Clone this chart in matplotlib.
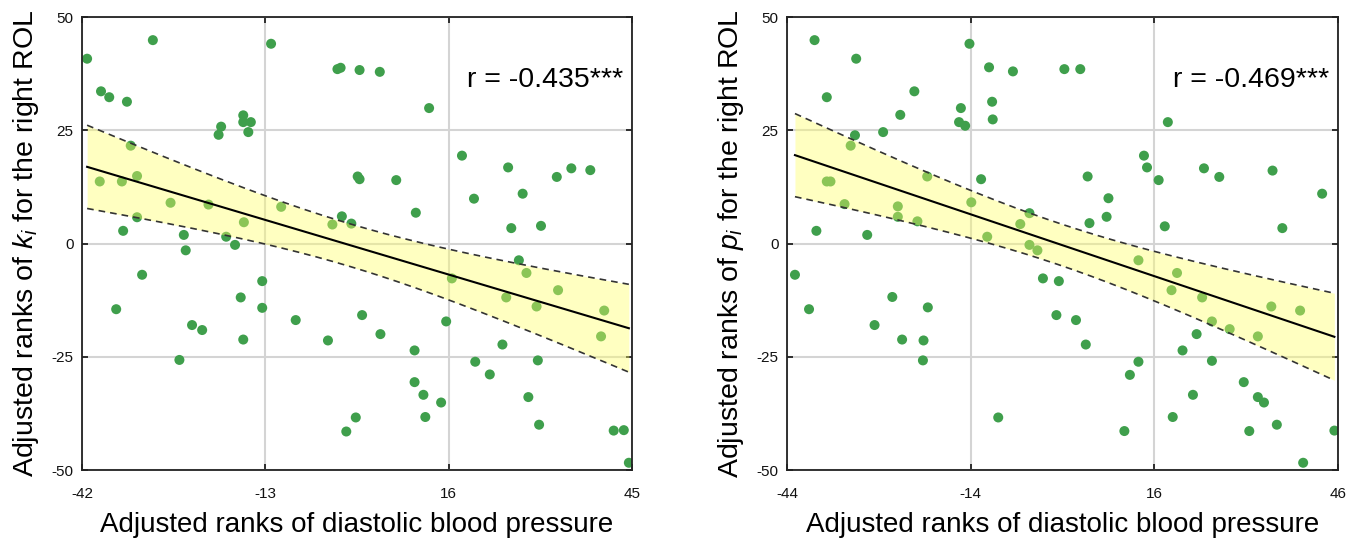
import numpy as np
import matplotlib.pyplot as plt

plt.rcParams['font.family'] = ['Liberation Sans', 'DejaVu Sans']
plt.rcParams['mathtext.fontset'] = 'custom'
plt.rcParams['mathtext.rm'] = 'Liberation Sans'
plt.rcParams['mathtext.it'] = 'Liberation Sans:italic'
plt.rcParams['axes.unicode_minus'] = False

# adjusted ranks, left panel (k_i)
k_x = np.array([-41.2, -30.8, -12.1, -39.0, -37.7, -34.9, -1.6, -1.1, 1.9, 5.1,
                12.9, -16.5, -16.5, -15.3, -15.7, -20.0, -20.4, -34.3, -39.2, -35.7,
                -33.3, -28.0, -22.0, -10.5, -33.3, -35.5, -25.9, -25.6, -19.2, -17.8,
                -16.4, -32.5, -36.6, -13.5, -16.9, -13.5, -24.6, -23.0, -16.5, -26.6,
                -8.2, -3.1, -2.4, -0.9, 0.6, 1.6, 1.9, 7.7, 2.3, 5.2,
                1.3, -0.2, 10.8, 10.6, 10.6, 12.0, 12.3, 14.8, 15.6, 16.5,
                18.1, 20.0, 20.2, 22.5, 24.5, 25.1, 25.4, 25.9, 27.1, 27.7,
                28.3, 29.9, 30.1, 28.6, 30.3, 30.6, 33.1, 33.3, 35.4, 38.4,
                40.1, 40.6, 42.1, 43.7, 44.5])
k_y = np.array([40.8, 44.9, 44.1, 33.6, 32.3, 31.3, 38.5, 38.8, 38.3, 37.9,
                29.9, 28.3, 26.8, 26.8, 24.6, 25.8, 24.0, 21.6, 13.7, 13.7,
                14.9, 9.0, 8.6, 8.1, 5.8, 2.8, 1.9, -1.5, 1.5, -0.3,
                4.7, -6.9, -14.5, -8.3, -11.9, -14.2, -18.0, -19.1, -21.2, -25.7,
                -16.9, -21.4, 4.2, 6.0, 4.4, 14.8, 14.2, 14.0, -15.8, -20.0,
                -38.4, -41.5, 6.8, -23.6, -30.6, -33.4, -38.3, -35.1, -17.2, -7.7,
                19.4, 9.9, -26.1, -28.9, -22.3, -11.9, 16.8, 3.4, -3.7, 11.0,
                -6.5, -13.9, -25.8, -33.9, -40.0, 3.9, 14.7, -10.3, 16.6, 16.2,
                -20.5, -14.8, -41.3, -41.2, -48.4])

# adjusted ranks, right panel (p_i)
p_x = np.array([-39.5, -32.7, -14.2, -37.5, -23.2, -11.0, -7.1, 1.3, 3.9, -25.5,
                -15.6, -10.5, -10.4, -15.9, -14.9, -28.3, -32.9, 18.2, -33.6, -37.5,
                -36.9, -21.1, -34.6, -25.9, -25.9, -22.7, -13.9, -39.2, -30.9, -12.3,
                -11.3, -5.9, -4.4, -4.4, -3.1, -42.7, -40.4, -26.8, -21.0, -29.7,
                -25.2, -21.7, -21.8, -9.5, -2.2, 0.4, 0.0, 3.2, 4.8, 5.1,
                5.4, 8.2, 8.5, 11.1, 12.0, 13.4, 13.4, 14.3, 14.8, 16.7,
                17.7, 18.8, 19.7, 19.0, 20.6, 22.3, 22.9, 23.8, 24.1, 25.4,
                25.4, 26.6, 28.3, 30.6, 31.5, 32.9, 33.9, 32.9, 35.1, 35.3,
                36.9, 36.0, 39.8, 40.3, 43.4, 45.4])
p_y = np.array([44.9, 40.8, 44.1, 32.3, 33.6, 38.9, 38.0, 38.5, 38.5, 28.4,
                29.9, 31.3, 27.4, 26.8, 26.0, 24.6, 23.9, 26.8, 21.6, 13.7,
                13.7, 14.8, 8.7, 8.2, 5.9, 4.9, 9.1, 2.8, 1.9, 14.2,
                1.5, 4.3, 6.7, -0.3, -1.5, -6.9, -14.5, -11.8, -14.1, -18.0,
                -21.2, -21.4, -25.8, -38.4, -7.7, -8.3, -15.8, -16.9, -22.3, 14.8,
                4.5, 5.9, 10.0, -41.4, -29.0, -26.1, -3.7, 19.4, 16.8, 14.0,
                3.8, -10.3, -6.5, -38.3, -23.6, -33.4, -20.0, -11.9, 16.6, -17.2,
                -25.9, 14.7, -18.9, -30.6, -41.4, -33.9, -35.1, -20.5, -13.9, 16.1,
                3.4, -40.0, -14.8, -48.4, 11.0, -41.3])

k_xticks = [-42, -13, 16, 45]
p_xticks = [-44, -14, 16, 46]
yticks = [-50, -25, 0, 25, 50]

xlabel = 'Adjusted ranks of diastolic blood pressure'
k_ylabel = 'Adjusted ranks of $k_i$ for the right ROL'
p_ylabel = 'Adjusted ranks of $p_i$ for the right ROL'
k_r = 'r = -0.435***'
p_r = 'r = -0.469***'

DOT = '#3f9f4c'
T95 = 1.99


def draw_panel(ax, x, y, xticks, ylabel, rtext):
    ax.scatter(x, y, s=52, color=DOT, edgecolors='none', zorder=2)

    # least squares fit with 95% confidence band of the mean
    slope, icpt = np.polyfit(x, y, 1)
    xs = np.linspace(x.min(), x.max(), 200)
    fit = slope * xs + icpt
    n = len(x)
    resid = y - (slope * x + icpt)
    s = np.sqrt(np.sum(resid ** 2) / (n - 2))
    sxx = np.sum((x - x.mean()) ** 2)
    half = T95 * s * np.sqrt(1.0 / n + (xs - x.mean()) ** 2 / sxx)

    ax.fill_between(xs, fit - half, fit + half, color='#ffff66', alpha=0.4,
                    lw=0, zorder=3)
    ax.plot(xs, fit + half, color='#333333', lw=1.2, ls=(0, (4, 3)), zorder=4)
    ax.plot(xs, fit - half, color='#333333', lw=1.2, ls=(0, (4, 3)), zorder=4)
    ax.plot(xs, fit, color='black', lw=1.5, zorder=5)

    ax.set_xlim(xticks[0], xticks[-1])
    ax.set_ylim(-50, 50)
    ax.set_xticks(xticks)
    ax.set_yticks(yticks)
    ax.grid(True, color='#d4d4d4', lw=1.5)
    ax.set_axisbelow(True)
    ax.tick_params(direction='in', length=4, width=1.2, top=True, right=True,
                   labelsize=11, colors='#111111')
    ax.tick_params(axis='x', pad=12)
    ax.tick_params(axis='y', pad=6)
    for sp in ax.spines.values():
        sp.set_color('#222222')
        sp.set_linewidth(1.3)

    ax.set_xlabel(xlabel, fontsize=20, labelpad=8)
    ax.set_ylabel(ylabel, fontsize=20.5, labelpad=8)
    ax.text(0.70, 0.845, rtext, transform=ax.transAxes, fontsize=20.5,
            ha='left', va='baseline', zorder=6)


fig = plt.figure(figsize=(13.63, 5.39), dpi=100)
ax1 = fig.add_axes([0.0602, 0.128, 0.4035, 0.8404])
ax2 = fig.add_axes([0.5774, 0.128, 0.4043, 0.8404])

draw_panel(ax1, k_x, k_y, k_xticks, k_ylabel, k_r)
draw_panel(ax2, p_x, p_y, p_xticks, p_ylabel, p_r)

fig.savefig('out.png', dpi=100)
